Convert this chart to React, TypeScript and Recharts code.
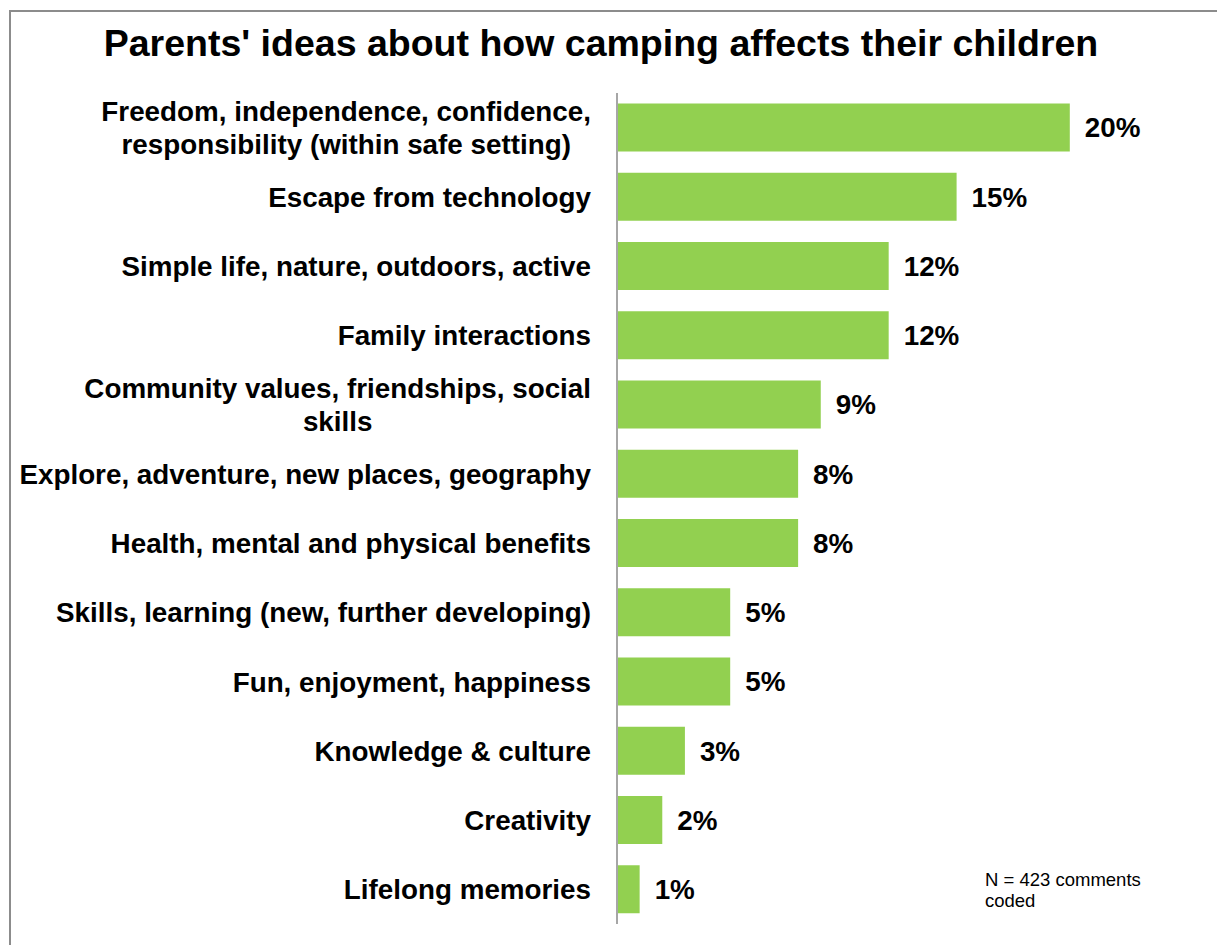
import { Bar, BarChart, LabelList, XAxis, YAxis } from "recharts";

const CATEGORIES = [
  "Freedom, independence, confidence,\nresponsibility (within safe setting)",
  "Escape from technology",
  "Simple life, nature, outdoors, active",
  "Family interactions",
  "Community values, friendships, social\nskills",
  "Explore, adventure, new places, geography",
  "Health, mental and physical benefits",
  "Skills, learning (new, further developing)",
  "Fun, enjoyment, happiness",
  "Knowledge & culture",
  "Creativity",
  "Lifelong memories",
];
const VALUES = [20, 15, 12, 12, 9, 8, 8, 5, 5, 3, 2, 1];

const TITLE = "Parents' ideas about how camping affects their children";
const NOTE = ["N = 423 comments", "coded"];

const FONT = "'Liberation Sans', Arial, Helvetica, sans-serif";
const GREEN = "#92d050";
const LABEL_SIZE = 27.8;

const data = CATEGORIES.map((name, i) => ({ name, value: VALUES[i] }));

let ctx: CanvasRenderingContext2D | null = null;
function textWidth(s: string) {
  if (!ctx) ctx = document.createElement("canvas").getContext("2d");
  if (!ctx) return s.length * LABEL_SIZE * 0.55;
  ctx.font = `bold ${LABEL_SIZE}px ${FONT}`;
  return ctx.measureText(s).width;
}

function CategoryTick(props: any) {
  const { y, payload } = props;
  const lines = String(payload.value).split("\n");
  const right = 591;
  const lh = 33;
  const widest = Math.max(...lines.map(textWidth));
  const cx = right - widest / 2;
  const y0 = y - ((lines.length - 1) * lh) / 2;
  return (
    <text
      x={cx}
      y={y0}
      textAnchor="middle"
      dominantBaseline="central"
      fontFamily={FONT}
      fontWeight="bold"
      fontSize={LABEL_SIZE}
      fill="#000"
    >
      {lines.map((ln, i) => (
        <tspan key={i} x={cx} y={y0 + i * lh} dominantBaseline="central">
          {ln}
        </tspan>
      ))}
    </text>
  );
}

export default function App() {
  return (
    <div style={{ position: "absolute", left: 0, top: 0, width: 1217, height: 945, background: "#fff", overflow: "hidden", fontFamily: FONT }}>
      {/* frame */}
      <div style={{ position: "absolute", left: 9, top: 10, right: -5, bottom: -5, borderLeft: "2px solid #8c8c8c", borderTop: "2px solid #8c8c8c" }} />
      <div
        style={{
          position: "absolute",
          left: 0,
          width: 1202,
          top: 21,
          textAlign: "center",
          fontSize: 37.5,
          fontWeight: "bold",
          lineHeight: "44px",
          color: "#000",
        }}
      >
        {TITLE}
      </div>
      <div style={{ position: "absolute", left: 0, top: 0 }}>
        <BarChart
          width={1217}
          height={945}
          data={data}
          layout="vertical"
          margin={{ top: 93, right: 34, bottom: 21, left: 0 }}
          barCategoryGap="15.3%"
        >
          <XAxis type="number" domain={[0, 25]} hide />
          <YAxis
            type="category"
            dataKey="name"
            width={617}
            axisLine={{ stroke: "#a6a6a6", strokeWidth: 2 }}
            tickLine={false}
            tick={<CategoryTick />}
            interval={0}
          />
          <Bar dataKey="value" fill={GREEN} isAnimationActive={false}>
            <LabelList
              dataKey="value"
              position="right"
              offset={15}
              formatter={(v: any) => `${v}%`}
              style={{ fontFamily: FONT, fontWeight: "bold", fontSize: LABEL_SIZE, fill: "#000" }}
            />
          </Bar>
        </BarChart>
      </div>
      <div style={{ position: "absolute", left: 985, top: 869, fontSize: 18.5, lineHeight: "21px", color: "#000" }}>
        {NOTE.map((n) => (
          <div key={n}>{n}</div>
        ))}
      </div>
    </div>
  );
}
